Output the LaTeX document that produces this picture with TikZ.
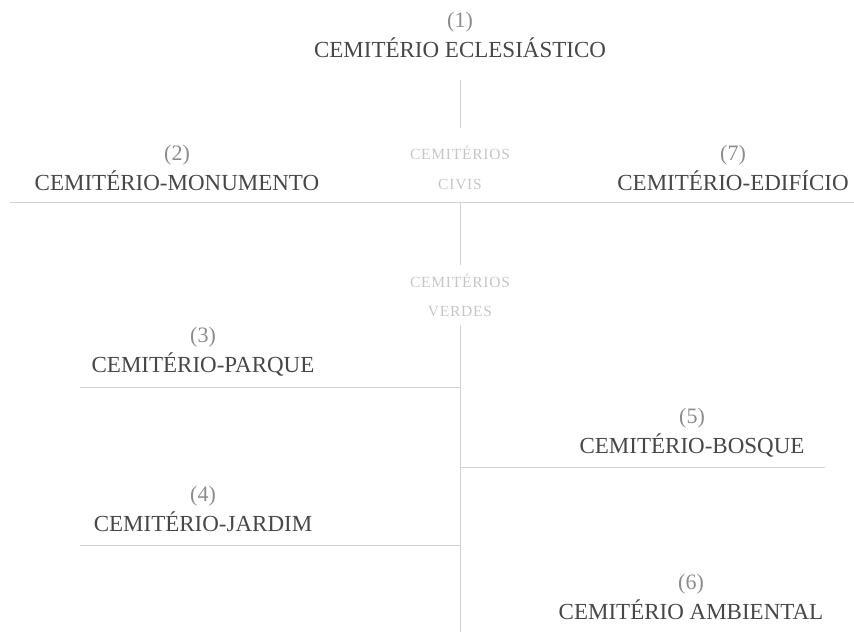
\documentclass[tikz,border=0pt]{standalone}
\usepackage{fontspec}
\setmainfont{Liberation Serif}
\usepackage{xcolor}
\usetikzlibrary{positioning}
\definecolor{ink}{HTML}{474747}
\definecolor{numgray}{HTML}{8C8C8C}
\definecolor{faint}{HTML}{C6C6C6}
\definecolor{rulegray}{HTML}{D2D2D2}

\begin{document}
\begin{tikzpicture}[x=1pt,y=-1pt,
  title/.style={anchor=base,text=ink,inner sep=0pt,font=\fontsize{23}{26}\selectfont},
  num/.style={anchor=base,text=numgray,inner sep=0pt,font=\fontsize{22}{25}\selectfont},
  group/.style={anchor=base,text=faint,inner sep=0pt,font=\fontsize{15.5}{17}\selectfont\addfontfeature{LetterSpace=5}},
  rule/.style={draw=rulegray,line width=0.9pt}]
\useasboundingbox (0,0) rectangle (854,632);
% headings
\node[num] (n1) at (460,27) {(1)};
\node[title] (t1) at (460,57) {CEMITÉRIO ECLESIÁSTICO};
\node[num] (n2) at (177,160) {(2)};
\node[title] (t2) at (177,190) {CEMITÉRIO-MONUMENTO};
\node[num] (n7) at (733,160) {(7)};
\node[title] (t7) at (733,190) {CEMITÉRIO-EDIFÍCIO};
\node[num] (n3) at (203,342) {(3)};
\node[title] (t3) at (203,372) {CEMITÉRIO-PARQUE};
\node[num] (n5) at (692,423) {(5)};
\node[title] (t5) at (692,453) {CEMITÉRIO-BOSQUE};
\node[num] (n4) at (203,501) {(4)};
\node[title] (t4) at (203,531) {CEMITÉRIO-JARDIM};
\node[num] (n6) at (691,589) {(6)};
\node[title] (t6) at (691,619) {CEMITÉRIO AMBIENTAL};
% group labels
\node[group] (civA) at (460,159) {CEMITÉRIOS};
\node[group] (civB) at (460,189) {CIVIS};
\node[group] (verA) at (460,287) {CEMITÉRIOS};
\node[group] (verB) at (460,316) {VERDES};
% rules
\coordinate (axTop) at (460,80);
\coordinate (axCiv) at (460,128);
\coordinate (axMid) at (460,202);
\coordinate (axVer) at (460,265);
\coordinate (axLow) at (460,325);
\coordinate (axEnd) at (460,632);
\coordinate (hL) at (10,202);
\coordinate (hR) at (854,202);
\coordinate (pq) at (80,387);
\coordinate (pqR) at (460,387);
\coordinate (bsL) at (460,467);
\coordinate (bs) at (825,467);
\coordinate (jd) at (80,545);
\coordinate (jdR) at (460,545);
\draw[rule] (axTop) -- (axCiv);
\draw[rule] (hL) -- (hR);
\draw[rule] (axMid) -- (axVer);
\draw[rule] (axLow) -- (axEnd);
\draw[rule] (pq) -- (pqR);
\draw[rule] (bsL) -- (bs);
\draw[rule] (jd) -- (jdR);
\end{tikzpicture}
\end{document}
